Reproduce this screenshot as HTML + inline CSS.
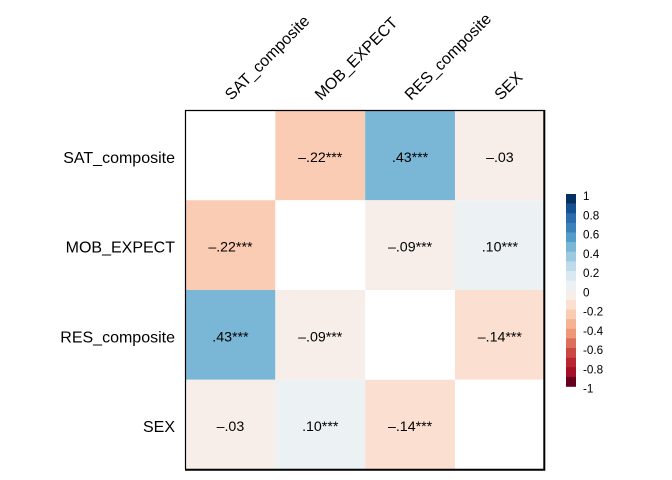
<!DOCTYPE html>
<html>
<head>
<meta charset="utf-8">
<title>Correlation matrix</title>
<style>
html,body{margin:0;padding:0;background:#fff;}
#chart{display:block;width:672px;height:480px;font-family:"Liberation Sans",Arial,sans-serif;}
</style>
</head>
<body>
<svg id="chart" xmlns="http://www.w3.org/2000/svg" width="672" height="480" viewBox="0 0 672 480"></svg>
<script>
const variables = ["SAT_composite", "MOB_EXPECT", "RES_composite", "SEX"];
const correlations = [
  [null, -0.22, 0.43, -0.03],
  [-0.22, null, -0.09, 0.10],
  [0.43, -0.09, null, -0.14],
  [-0.03, 0.10, -0.14, null]
];
const cellLabels = [
  ["", "\u2013.22***", ".43***", "\u2013.03"],
  ["\u2013.22***", "", "\u2013.09***", ".10***"],
  [".43***", "\u2013.09***", "", "\u2013.14***"],
  ["\u2013.03", ".10***", "\u2013.14***", ""]
];
const legendTicks = [1, 0.8, 0.6, 0.4, 0.2, 0, -0.2, -0.4, -0.6, -0.8, -1];
const legendBins = [0.95, 0.85, 0.75, 0.65, 0.55, 0.45, 0.35, 0.25, 0.15, 0.05, -0.05, -0.15, -0.25, -0.35, -0.45, -0.55, -0.65, -0.75, -0.85, -0.95];
const palette = ["#67001F","#A50F27","#B92632","#CA4841","#DD6E59","#EE9677","#F6B394","#FBCCB4","#FBE0D1","#F7EEE9","#ECF1F4","#D9E8F1","#BFDBEA","#9ECAE1","#7AB6D6","#539DC8","#3B82BA","#2B6BAE","#155091","#053061"];

const svg = document.getElementById("chart");
const NS = "http://www.w3.org/2000/svg";
const panel = {left: 185.5, right: 544.8, top: 110.5, bottom: 469.5};
const legend = {left: 566, right: 576, top: 194, bottom: 386.5};

function xPos(i) { return panel.left + (panel.right - panel.left) * i / variables.length; }
function yPos(i) { return panel.top + (panel.bottom - panel.top) * i / variables.length; }
function legendY(v) { return legend.top + (1 - v) / 2 * (legend.bottom - legend.top); }
function colorFor(v) {
  const pos = Math.round((v + 1) / 2 * palette.length * 1e6) / 1e6;
  const raw = v > 0 ? Math.ceil(pos) - 1 : Math.floor(pos);
  const idx = Math.min(palette.length - 1, Math.max(0, raw));
  return palette[idx];
}
function make(tag, attrs, parent) {
  const el = document.createElementNS(NS, tag);
  for (const k in attrs) el.setAttribute(k, attrs[k]);
  (parent || svg).appendChild(el);
  return el;
}

const background = make("rect", {x: 0, y: 0, width: 672, height: 480, fill: "#ffffff"});



correlations.forEach(function (row, r) {
  row.forEach(function (value, c) {
    const fill = value === null ? "#ffffff" : colorFor(value);
    const cell = make("rect", {x: xPos(c), y: yPos(r), width: xPos(c + 1) - xPos(c), height: yPos(r + 1) - yPos(r), fill: fill});
    
    
  });
});

cellLabels.forEach(function (row, r) {
  row.forEach(function (label, c) {
    if (!label) return;
    const t = make("text", {x: (xPos(c) + xPos(c + 1)) / 2, y: (yPos(r) + yPos(r + 1)) / 2 + 6.5, "text-anchor": "middle", "font-size": "14.2px", fill: "#000"});
    t.textContent = label;
    
    
  });
});

const frameTopLeft = make("path", {d: "M" + panel.left + " " + panel.bottom + "V" + panel.top + "H" + panel.right, fill: "none", stroke: "#000", "stroke-width": 1.2});



const frameBottomRight = make("path", {d: "M" + (panel.right - 0.5) + " " + (panel.top - 0.5) + "V" + (panel.bottom + 0.3) + "H" + (panel.left - 0.5), fill: "none", stroke: "#000", "stroke-width": 2});



variables.forEach(function (name, i) {
  const yl = make("text", {x: 175, y: (yPos(i) + yPos(i + 1)) / 2 + 7.5, "text-anchor": "end", "font-size": "16px", fill: "#000"});
  yl.textContent = name;
  
  

  const px = (xPos(i) + xPos(i + 1)) / 2 + 1;
  const xl = make("text", {x: 0, y: 0, transform: "translate(" + px + ",101) rotate(-45)", "text-anchor": "start", "font-size": "16px", fill: "#000"});
  xl.textContent = name;
  
  
});

legendBins.forEach(function (v) {
  const h = (legend.bottom - legend.top) / legendBins.length;
  const sw = make("rect", {x: legend.left, y: legendY(v) - h / 2, width: legend.right - legend.left, height: h + 0.3, fill: colorFor(v)});
  
  
});

legendTicks.forEach(function (v) {
  const t = make("text", {x: 583, y: legendY(v) + 6, "font-size": "11.7px", fill: "#000"});
  t.textContent = String(v);
  
  
});
</script>
</body>
</html>
